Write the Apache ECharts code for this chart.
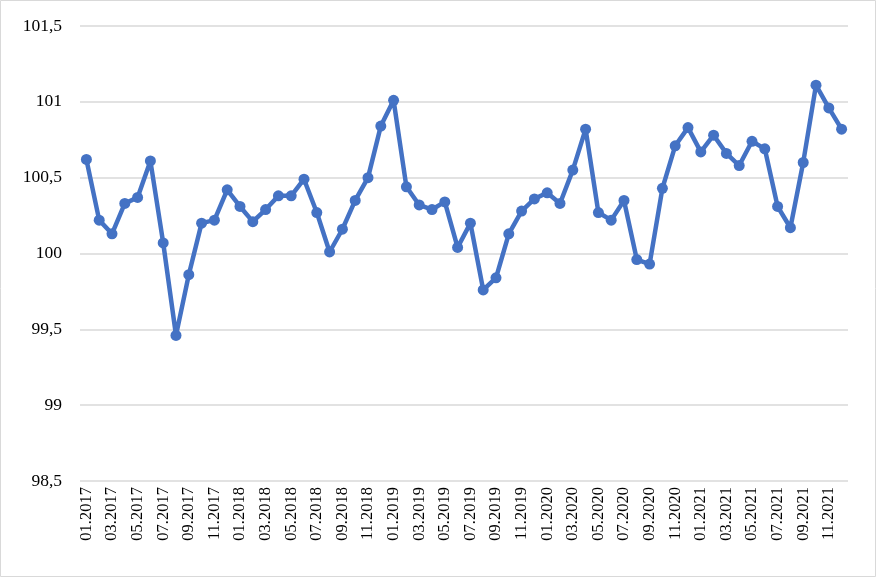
<!DOCTYPE html>
<html><head><meta charset="utf-8">
<script src="https://cdn.jsdelivr.net/npm/echarts@6/dist/echarts.min.js"></script>
<style>html,body{margin:0;padding:0;background:#fff}#c{width:876px;height:577px}</style>
</head><body><div id="c"></div>
<script>
const categories = [];
const years = [2017, 2018, 2019, 2020, 2021];
for (const y of years) for (let m = 1; m <= 12; m++) categories.push((m < 10 ? '0' : '') + m + '.' + y);

const values2017 = [100.62, 100.22, 100.13, 100.33, 100.37, 100.61, 100.07, 99.46, 99.86, 100.20, 100.22, 100.42];
const values2018 = [100.31, 100.21, 100.29, 100.38, 100.38, 100.49, 100.27, 100.01, 100.16, 100.35, 100.50, 100.84];
const values2019 = [101.01, 100.44, 100.32, 100.29, 100.34, 100.04, 100.20, 99.76, 99.84, 100.13, 100.28, 100.36];
const values2020 = [100.40, 100.33, 100.55, 100.82, 100.27, 100.22, 100.35, 99.96, 99.93, 100.43, 100.71, 100.83];
const values2021 = [100.67, 100.78, 100.66, 100.58, 100.74, 100.69, 100.31, 100.17, 100.60, 101.11, 100.96, 100.82];
const values = [].concat(values2017, values2018, values2019, values2020, values2021);

const chart = echarts.init(document.getElementById('c'));
chart.setOption({
  animation: false,
  backgroundColor: '#fff',
  graphic: [{type: 'rect', shape: {x: 0.5, y: 0.5, width: 875, height: 576}, style: {fill: 'none', stroke: '#d9d9d9', lineWidth: 1}}],
  grid: {left: 80, right: 28, top: 26, bottom: 96},
  xAxis: {
    type: 'category', data: categories, boundaryGap: true,
    axisLine: {show: false}, axisTick: {show: false},
    axisLabel: {interval: 1, rotate: 90, fontFamily: 'Liberation Serif', fontSize: 16.5, color: '#000', margin: 6}
  },
  yAxis: {
    type: 'value', min: 98.5, max: 101.5, interval: 0.5,
    axisLine: {show: false}, axisTick: {show: false},
    splitLine: {lineStyle: {color: '#d9d9d9', width: 1.5}},
    axisLabel: {fontFamily: 'Liberation Serif', fontSize: 17.5, color: '#000', margin: 18,
      formatter: v => String(Math.round(v * 10) / 10).replace('.', ',')}
  },
  series: [{
    type: 'line', data: values,
    lineStyle: {color: '#4472c4', width: 4.5},
    itemStyle: {color: '#4472c4'},
    symbol: 'circle', symbolSize: 11, showSymbol: true, showAllSymbol: true
  }]
});
</script></body></html>
